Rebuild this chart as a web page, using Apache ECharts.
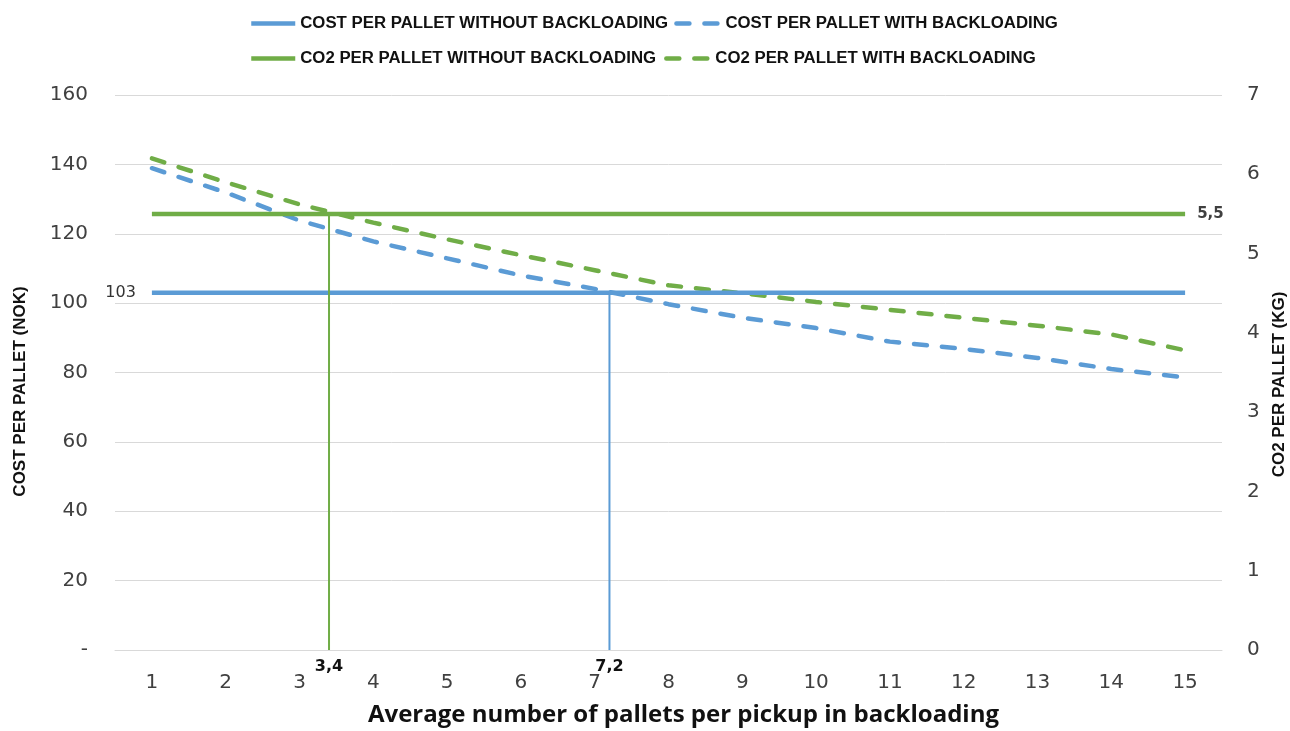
<!DOCTYPE html>
<html>
<head>
<meta charset="utf-8">
<script src="https://cdn.jsdelivr.net/npm/echarts@6/dist/echarts.min.js"></script>
<style>
  html, body { margin: 0; padding: 0; background: #ffffff; }
  #chart { width: 1290px; height: 731px; }
</style>
</head>
<body>
<div id="chart"></div>
<script>
// Average number of pallets per pickup (x categories)
const pallets = [1, 2, 3, 4, 5, 6, 7, 8, 9, 10, 11, 12, 13, 14, 15];

// Cost per pallet (NOK)
const costWithout = [103, 103, 103, 103, 103, 103, 103, 103, 103, 103, 103, 103, 103, 103, 103];
const costWith = [138.9, 131.9, 123.8, 117.8, 112.9, 108.0, 104.1, 99.7, 95.8, 92.8, 88.9, 86.8, 84.2, 81.0, 78.6];

// CO2 per pallet (kg)
const co2Without = [5.5, 5.5, 5.5, 5.5, 5.5, 5.5, 5.5, 5.5, 5.5, 5.5, 5.5, 5.5, 5.5, 5.5, 5.5];
const co2With = [6.20, 5.90, 5.62, 5.39, 5.18, 4.98, 4.79, 4.60, 4.50, 4.39, 4.29, 4.19, 4.09, 3.98, 3.78];

// Break-even points (pallets per pickup)
const co2BreakEven = 3.4;
const costBreakEven = 7.2;

// Axis ranges and ticks
const costTicks = { min: 0, max: 160, interval: 20 };
const co2Ticks = { min: 0, max: 7, interval: 1 };

const names = {
  costWithout: 'COST PER PALLET WITHOUT BACKLOADING',
  costWith: 'COST PER PALLET WITH BACKLOADING',
  co2Without: 'CO2 PER PALLET WITHOUT BACKLOADING',
  co2With: 'CO2 PER PALLET WITH BACKLOADING'
};

const BLUE = '#5b9bd5';
const GREEN = '#70ad47';
const GRID = '#d9d9d9';
const TXT = '#404040';

const pairs = (ys) => pallets.map((x, i) => [x, ys[i]]);
const fmtComma = (v) => String(v).replace('.', ',');

const legendText = { fontFamily: 'Liberation Sans', fontWeight: 'bold', fontSize: 16.8, color: '#111' };
const dash = [13, 15];

// invisible point markers, only used to carry value labels
const hiddenSymbol = { symbol: 'circle', symbolSize: 0.1, showSymbol: true };

const chart = echarts.init(document.getElementById('chart'), null, { renderer: 'canvas' });

chart.setOption({
  animation: false,
  backgroundColor: '#ffffff',
  textStyle: { fontFamily: 'DejaVu Sans' },
  legend: [
    {
      top: 10, left: 244, itemWidth: 44, itemHeight: 10, itemGap: 6,
      itemStyle: { opacity: 0 },
      lineStyle: { width: 4.5 },
      textStyle: legendText,
      data: [names.costWithout, names.costWith]
    },
    {
      top: 45, left: 244, itemWidth: 44, itemHeight: 10, itemGap: 8,
      itemStyle: { opacity: 0 },
      lineStyle: { width: 4.5 },
      textStyle: legendText,
      data: [names.co2Without, names.co2With]
    }
  ],
  grid: { left: 115, right: 68, top: 95, bottom: 81, outerBoundsMode: 'none', containLabel: false },
  xAxis: [
    {
      type: 'category',
      data: pallets.map(String),
      boundaryGap: true,
      axisLine: { show: true, lineStyle: { color: GRID, width: 1 } },
      axisTick: { show: false },
      axisLabel: { fontSize: 20, color: TXT, margin: 23, fontFamily: 'DejaVu Sans' },
      name: 'Average number of pallets per pickup in backloading',
      nameLocation: 'middle',
      nameGap: 53,
      nameTextStyle: {
        fontFamily: 'Open Sans', fontWeight: 'bold', fontSize: 24, color: '#111',
        padding: [0, 0, 0, 30]
      }
    },
    {
      type: 'value',
      min: 0.5,
      max: 15.5,
      show: false
    }
  ],
  yAxis: [
    {
      type: 'value',
      min: costTicks.min, max: costTicks.max, interval: costTicks.interval,
      axisLine: { show: false },
      axisTick: { show: false },
      splitLine: { lineStyle: { color: GRID, width: 1 } },
      axisLabel: {
        fontSize: 20, color: TXT, margin: 27, fontFamily: 'DejaVu Sans',
        formatter: (v) => (v === 0 ? '-' : String(v))
      },
      name: 'COST PER PALLET (NOK)',
      nameLocation: 'middle',
      nameRotate: 90,
      nameGap: 86,
      nameTextStyle: {
        fontFamily: 'Liberation Sans', fontWeight: 'bold', fontSize: 17, color: '#111',
        padding: [0, 38, 0, 0]
      }
    },
    {
      type: 'value',
      position: 'right',
      min: co2Ticks.min, max: co2Ticks.max, interval: co2Ticks.interval,
      axisLine: { show: false },
      axisTick: { show: false },
      splitLine: { show: false },
      axisLabel: { fontSize: 20, color: TXT, margin: 25, fontFamily: 'DejaVu Sans' },
      name: 'CO2 PER PALLET (KG)',
      nameLocation: 'middle',
      nameRotate: 90,
      nameGap: 47,
      nameTextStyle: {
        fontFamily: 'Liberation Sans', fontWeight: 'bold', fontSize: 17, color: '#111',
        padding: [0, 24, 0, 0]
      }
    }
  ],
  series: [
    {
      name: names.costWith,
      type: 'line',
      xAxisIndex: 1, yAxisIndex: 0,
      data: pairs(costWith),
      symbol: 'none',
      z: 3,
      lineStyle: { color: BLUE, width: 4.5, type: dash, cap: 'round' },
      itemStyle: { color: BLUE }
    },
    {
      name: names.co2With,
      type: 'line',
      xAxisIndex: 1, yAxisIndex: 1,
      data: pairs(co2With),
      symbol: 'none',
      z: 3,
      lineStyle: { color: GREEN, width: 4.5, type: dash, cap: 'round' },
      itemStyle: { color: GREEN }
    },
    {
      name: names.costWithout,
      type: 'line',
      xAxisIndex: 1, yAxisIndex: 0,
      data: pairs(costWithout),
      ...hiddenSymbol,
      z: 4,
      lineStyle: { color: BLUE, width: 4.5 },
      itemStyle: { color: BLUE },
      label: {
        show: true,
        position: 'left',
        distance: 16,
        fontSize: 16,
        color: '#333',
        fontFamily: 'DejaVu Sans',
        formatter: (p) => (p.dataIndex === 0 ? fmtComma(p.value[1]) : '')
      }
    },
    {
      name: names.co2Without,
      type: 'line',
      xAxisIndex: 1, yAxisIndex: 1,
      data: pairs(co2Without),
      ...hiddenSymbol,
      z: 4,
      lineStyle: { color: GREEN, width: 4.5 },
      itemStyle: { color: GREEN },
      label: {
        show: true,
        position: 'right',
        distance: 12,
        fontSize: 15,
        fontWeight: 'bold',
        color: TXT,
        fontFamily: 'DejaVu Sans',
        formatter: (p) => (p.dataIndex === pallets.length - 1 ? fmtComma(p.value[1]) : '')
      }
    },
    {
      // drop line at the CO2 break-even point
      name: 'co2BreakEven',
      type: 'line',
      xAxisIndex: 1, yAxisIndex: 1,
      data: [[co2BreakEven, co2Without[0]], [co2BreakEven, co2Ticks.min]],
      ...hiddenSymbol,
      z: 5,
      lineStyle: { color: GREEN, width: 2 },
      itemStyle: { color: GREEN },
      label: {
        show: true,
        position: 'bottom',
        distance: 9,
        fontSize: 16,
        fontWeight: 'bold',
        color: '#111',
        fontFamily: 'DejaVu Sans',
        formatter: (p) => (p.dataIndex === 1 ? fmtComma(p.value[0]) : '')
      }
    },
    {
      // drop line at the cost break-even point
      name: 'costBreakEven',
      type: 'line',
      xAxisIndex: 1, yAxisIndex: 0,
      data: [[costBreakEven, costWithout[0]], [costBreakEven, costTicks.min]],
      ...hiddenSymbol,
      z: 5,
      lineStyle: { color: BLUE, width: 2 },
      itemStyle: { color: BLUE },
      label: {
        show: true,
        position: 'bottom',
        distance: 9,
        fontSize: 16,
        fontWeight: 'bold',
        color: '#111',
        fontFamily: 'DejaVu Sans',
        formatter: (p) => (p.dataIndex === 1 ? fmtComma(p.value[0]) : '')
      }
    }
  ]
});
</script>
</body>
</html>
